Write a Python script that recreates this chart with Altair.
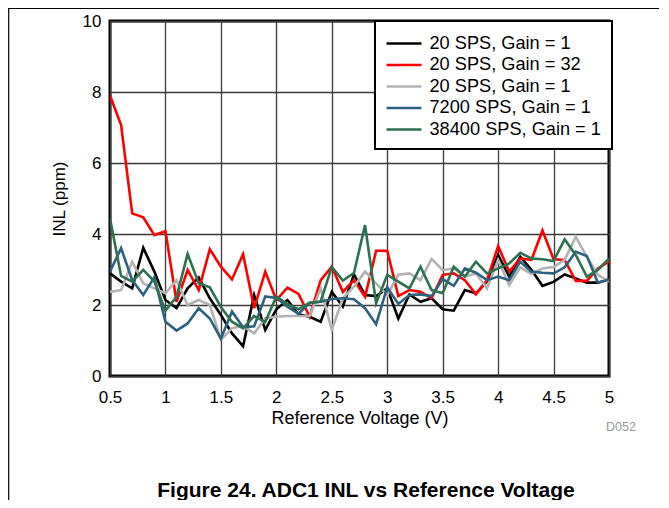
import altair as alt
import pandas as pd

voltage = [round(0.5 + 0.1 * i, 1) for i in range(46)]

black_20sps_g1 = [2.89, 2.66, 2.47, 3.61, 2.94, 2.14, 1.91, 2.47, 2.78, 2.19,
                  1.72, 1.20, 0.84, 2.28, 1.30, 1.88, 2.14, 1.74, 1.67, 1.53,
                  2.37, 1.96, 2.86, 2.28, 2.25, 2.47, 1.62, 2.30, 2.09, 2.19,
                  1.88, 1.84, 2.42, 2.33, 2.66, 3.41, 2.80, 3.36, 2.99, 2.54,
                  2.65, 2.86, 2.75, 2.63, 2.63, 2.72]
red_20sps_g32 = [7.90, 7.07, 4.58, 4.47, 3.97, 4.08, 2.09, 2.99, 2.42, 3.57,
                 3.08, 2.72, 3.43, 1.91, 2.94, 2.14, 2.49, 2.31, 1.67, 2.70,
                 3.08, 2.37, 2.70, 2.23, 3.53, 3.53, 2.25, 2.42, 2.37, 2.19,
                 2.85, 2.89, 2.70, 2.30, 2.70, 3.66, 2.94, 3.31, 3.27, 4.10,
                 3.29, 3.27, 2.68, 2.68, 3.03, 3.23]
grey_20sps_g1 = [2.37, 2.42, 3.22, 2.61, 2.47, 2.33, 2.70, 2.00, 2.14, 2.00,
                 1.02, 1.35, 1.41, 1.20, 1.62, 1.67, 1.69, 1.69, 1.69, 2.47,
                 1.30, 2.19, 2.52, 2.94, 2.61, 2.28, 2.85, 2.89, 2.70, 3.30,
                 2.98, 3.03, 2.80, 2.89, 2.47, 3.27, 2.56, 3.06, 2.87, 3.03,
                 3.07, 3.27, 3.92, 3.36, 2.85, 2.66]
blue_7200sps_g1 = [2.94, 3.60, 2.70, 2.28, 2.78, 1.53, 1.28, 1.48, 1.91, 1.62,
                   1.05, 1.82, 1.37, 1.40, 2.24, 2.20, 1.95, 1.75, 2.06, 2.09,
                   2.17, 2.19, 2.16, 1.91, 1.46, 2.50, 2.03, 2.28, 2.30, 2.25,
                   2.73, 2.54, 3.03, 2.91, 2.70, 2.80, 2.70, 3.22, 2.94, 2.91,
                   2.89, 3.06, 3.50, 3.38, 2.63, 2.72]
green_38400sps_g1 = [4.44, 2.82, 2.66, 2.99, 2.66, 1.84, 2.23, 3.44, 2.61, 2.50,
                     1.94, 1.53, 1.34, 1.69, 1.52, 2.24, 2.02, 1.88, 2.06, 2.10,
                     3.07, 2.69, 2.90, 4.25, 2.05, 2.85, 2.66, 2.47, 3.08, 2.42,
                     2.33, 3.08, 2.80, 3.22, 2.89, 3.03, 3.17, 3.47, 3.31, 3.29,
                     3.24, 3.85, 3.41, 2.80, 2.99, 3.31]

series_labels = ["20 SPS, Gain = 1", "20 SPS, Gain = 32", "20 SPS, Gain = 1\u200b",
                 "7200 SPS, Gain = 1", "38400 SPS, Gain = 1"]
series_colors = ["#000000", "#FF0000", "#B3B3B3", "#2D6180", "#2E7151"]
series_values = [black_20sps_g1, red_20sps_g32, grey_20sps_g1, blue_7200sps_g1, green_38400sps_g1]

x_ticks = [0.5, 1, 1.5, 2, 2.5, 3, 3.5, 4, 4.5, 5]
y_ticks = [0, 2, 4, 6, 8, 10]

fig_title = ["Figure 24. ADC1 INL vs Reference Voltage"]
fig_code = ["D052"]

rows = []
for idx, (lab, vals) in enumerate(zip(series_labels, series_values)):
    for v, val in zip(voltage, vals):
        rows.append({"Voltage": v, "INL": val, "Series": lab, "order": idx})
df = pd.DataFrame(rows)

FONT = "Liberation Sans"

lines = alt.Chart(df).mark_line(strokeWidth=2.6, strokeJoin="miter", clip=True).encode(
    x=alt.X("Voltage:Q", scale=alt.Scale(domain=[0.5, 5], nice=False, zero=False),
            axis=alt.Axis(values=x_ticks, title="Reference Voltage (V)", labelFontSize=17,
                          titleFontSize=18, labelPadding=13, titlePadding=4,
                          titleFontWeight="normal", ticks=False, domain=False,
                          labelFlush=False, gridColor="#3a3a3a", gridWidth=1.3,
                          labelExpr="datum.value == 0.5 ? '0.5' : format(datum.value, '~g')")),
    y=alt.Y("INL:Q", scale=alt.Scale(domain=[0, 10], nice=False),
            axis=alt.Axis(values=y_ticks, title="INL (ppm)", labelFontSize=17,
                          titleFontSize=17, labelPadding=9, titlePadding=14,
                          titleFontWeight="normal", ticks=False, domain=False,
                          gridColor="#3a3a3a", gridWidth=1.3)),
    color=alt.Color("Series:N", sort=series_labels,
                    scale=alt.Scale(domain=series_labels, range=series_colors),
                    legend=alt.Legend(title=None, orient="none", legendX=265, legendY=0,
                                      symbolType="M-1.75,0H1.75", symbolStrokeWidth=2.6,
                                      symbolSize=400, symbolOffset=6.5, labelFontSize=18.2,
                                      labelFont=FONT, rowPadding=1.5,
                                      padding=11, fillColor="white",
                                      strokeColor="black", labelOffset=14,
                                      labelLimit=300)),
    order=alt.Order("order:Q"),
    detail="Series:N",
)

d052 = alt.Chart(pd.DataFrame({"t": fig_code})).mark_text(
    font=FONT, fontSize=12.5, color="#999999", align="center", baseline="middle"
).encode(x=alt.value(511), y=alt.value(406), text="t:N")

title_txt = alt.Chart(pd.DataFrame({"t": fig_title})).mark_text(
    font=FONT, fontSize=21, fontWeight="bold", color="black", align="center",
    baseline="alphabetic"
).encode(x=alt.value(256), y=alt.value(475.5), text="t:N")

hline = alt.Chart(pd.DataFrame({"a": [0]})).mark_rule(color="black", strokeWidth=1.2).encode(
    x=alt.value(-102), x2=alt.value(560), y=alt.value(-12.5))
vline = alt.Chart(pd.DataFrame({"a": [0]})).mark_rule(color="black", strokeWidth=1.2).encode(
    x=alt.value(-101.3), y=alt.value(-13), y2=alt.value(480))

chart = alt.layer(lines, d052, title_txt, hline, vline).properties(
    width=499, height=355,
    padding={"left": 102, "top": 13, "right": 50, "bottom": 124},
    autosize=alt.AutoSizeParams(type="none"),
).configure_view(stroke="black", strokeWidth=3).configure_axis(
    labelFont=FONT, titleFont=FONT, labelColor="black", titleColor="black"
).configure_legend(strokeWidth=2)

chart.save("out.html", embed_options={"renderer": "svg", "actions": False})
